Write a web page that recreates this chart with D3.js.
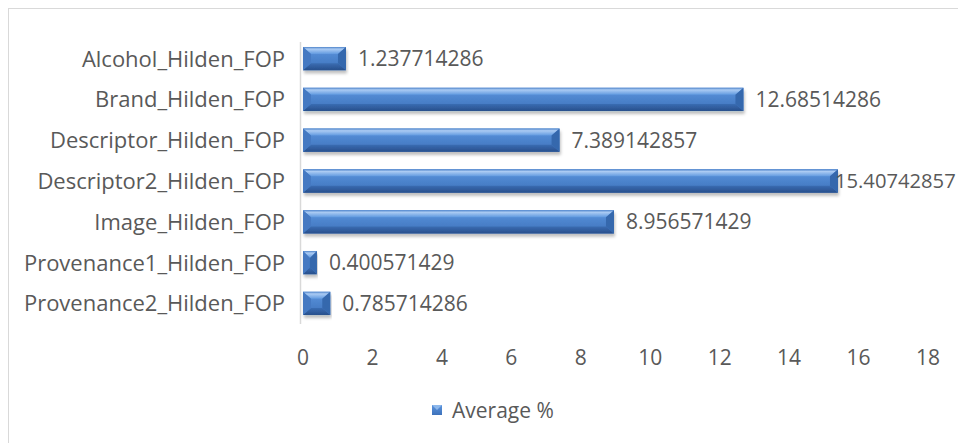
<!DOCTYPE html>
<html>
<head>
<meta charset="utf-8">
<script src="https://cdn.jsdelivr.net/npm/d3@7/dist/d3.min.js"></script>
<style>
  body { margin: 0; background: #fff; }
  text { font-family: "Open Sans", sans-serif; fill: #595959; }
</style>
</head>
<body>
<div id="chart"></div>
<script>
const categories = [
  "Alcohol_Hilden_FOP",
  "Brand_Hilden_FOP",
  "Descriptor_Hilden_FOP",
  "Descriptor2_Hilden_FOP",
  "Image_Hilden_FOP",
  "Provenance1_Hilden_FOP",
  "Provenance2_Hilden_FOP"
];
const values = [1.237714286, 12.68514286, 7.389142857, 15.40742857, 8.956571429, 0.400571429, 0.785714286];
const valueLabels = ["1.237714286", "12.68514286", "7.389142857", "15.40742857", "8.956571429", "0.400571429", "0.785714286"];
const ticks = [0, 2, 4, 6, 8, 10, 12, 14, 16, 18];
const seriesName = "Average %";

const svgWidth = 958;
const svgHeight = 443;
const margin = { top: 38, right: 30, bottom: 119, left: 303 };
const width = 928 - margin.left;
const height = svgHeight - margin.top - margin.bottom;

const svg = d3.select("#chart")
  .append("svg")
  .attr("width", svgWidth)
  .attr("height", svgHeight);

// chart frame
svg.append("rect")
  .attr("x", 8.5).attr("y", 8.5)
  .attr("width", 980).attr("height", 460)
  .attr("fill", "none")
  .attr("stroke", "#d9d9d9");

const defs = svg.append("defs");
function vGrad(id, stops) {
  const gr = defs.append("linearGradient")
    .attr("id", id)
    .attr("x1", 0).attr("y1", 0).attr("x2", 0).attr("y2", 1);
  stops.forEach(s => gr.append("stop").attr("offset", s[0]).attr("stop-color", s[1]));
}
vGrad("bodyGrad", [["0%", "#5c95de"], ["100%", "#3d72bb"]]);
vGrad("topGrad", [["0%", "#4d82c9"], ["30%", "#abcbf3"], ["100%", "#619ae0"]]);
vGrad("botGrad", [["0%", "#3a6cb2"], ["100%", "#284f8c"]]);

const shadow = defs.append("filter").attr("id", "shadow")
  .attr("x", "-5%").attr("y", "-20%").attr("width", "110%").attr("height", "160%");
shadow.append("feDropShadow")
  .attr("dx", 1).attr("dy", 3).attr("stdDeviation", 1.5)
  .attr("flood-color", "#000").attr("flood-opacity", 0.25);

const g = svg.append("g")
  .attr("transform", `translate(${margin.left},${margin.top})`);

const xScale = d3.scaleLinear()
  .domain([0, 18])
  .range([0, width]);

const yScale = d3.scaleBand()
  .domain(categories)
  .range([0, height])
  .paddingInner(0.43)
  .paddingOuter(0.22);

// vertical axis line
g.append("line")
  .attr("x1", -2.5).attr("x2", -2.5)
  .attr("y1", 4).attr("y2", height)
  .attr("stroke", "#d9d9d9")
  .attr("stroke-width", 1.5);

// bars
const bh = yScale.bandwidth();
const bars = g.selectAll(".bar")
  .data(values)
  .enter()
  .append("g")
  .attr("class", "bar")
  .attr("transform", (d, i) => `translate(0,${yScale(categories[i])})`)
  .attr("filter", "url(#shadow)");

bars.append("rect")
  .attr("x", 0)
  .attr("y", 0)
  .attr("width", d => xScale(d))
  .attr("height", bh)
  .attr("fill", "url(#bodyGrad)");

const bev = d => Math.min(8, xScale(d) / 2);
const tb = 7;
// top face
bars.append("path")
  .attr("d", d => {
    const w = xScale(d), b = bev(d);
    return `M0,0 L${w},0 L${w - b},${tb} L${b},${tb} Z`;
  })
  .attr("fill", "url(#topGrad)");
// bottom face
bars.append("path")
  .attr("d", d => {
    const w = xScale(d), b = bev(d);
    return `M0,${bh} L${w},${bh} L${w - b},${bh - tb} L${b},${bh - tb} Z`;
  })
  .attr("fill", "url(#botGrad)");
// left face
bars.append("path")
  .attr("d", d => {
    const b = bev(d);
    return `M0,0 L${b},${tb} L${b},${bh - tb} L0,${bh} Z`;
  })
  .attr("fill", "#4479c2");
// right face
bars.append("path")
  .attr("d", d => {
    const w = xScale(d), b = bev(d);
    return `M${w},0 L${w - b},${tb} L${w - b},${bh - tb} L${w},${bh} Z`;
  })
  .attr("fill", "#3668ad");

// value labels (shrunk and pulled in when they would run off the edge)
const maxRight = svgWidth - 2 - margin.left;
g.selectAll(".val")
  .data(values)
  .enter()
  .append("text")
  .attr("class", "val")
  .attr("x", d => xScale(d) + 12)
  .attr("y", (d, i) => yScale(categories[i]) + bh / 2)
  .attr("dy", "0.36em")
  .style("font-size", "21px")
  .text((d, i) => valueLabels[i])
  .each(function (d) {
    const w = this.getComputedTextLength();
    if (xScale(d) + 12 + w > maxRight) {
      const x0 = xScale(d) - 3;
      const fs = Math.floor(21 * (maxRight - x0) / w * 10) / 10;
      d3.select(this).attr("x", x0).style("font-size", fs + "px");
    }
  });

// category labels
g.selectAll(".cat")
  .data(categories)
  .enter()
  .append("text")
  .attr("class", "cat")
  .attr("x", -18)
  .attr("y", d => yScale(d) + bh / 2)
  .attr("dy", "0.36em")
  .attr("text-anchor", "end")
  .style("font-size", "22px")
  .text(d => d);

// x tick labels
g.selectAll(".tick-label")
  .data(ticks)
  .enter()
  .append("text")
  .attr("class", "tick-label")
  .attr("x", d => xScale(d))
  .attr("y", height + 33)
  .attr("dy", "0.36em")
  .attr("text-anchor", "middle")
  .style("font-size", "21px")
  .text(d => d);

// legend
const legend = svg.append("g").attr("transform", "translate(432,410)");
legend.append("rect")
  .attr("x", 0).attr("y", -5)
  .attr("width", 10).attr("height", 10)
  .attr("fill", "url(#bodyGrad)");
legend.append("path")
  .attr("d", "M0,-5 L5,0 L10,-5 Z")
  .attr("fill", "#8db8ec");
legend.append("text")
  .attr("x", 20)
  .attr("y", 0)
  .attr("dy", "0.36em")
  .style("font-size", "21px")
  .text(seriesName);
</script>
</body>
</html>
